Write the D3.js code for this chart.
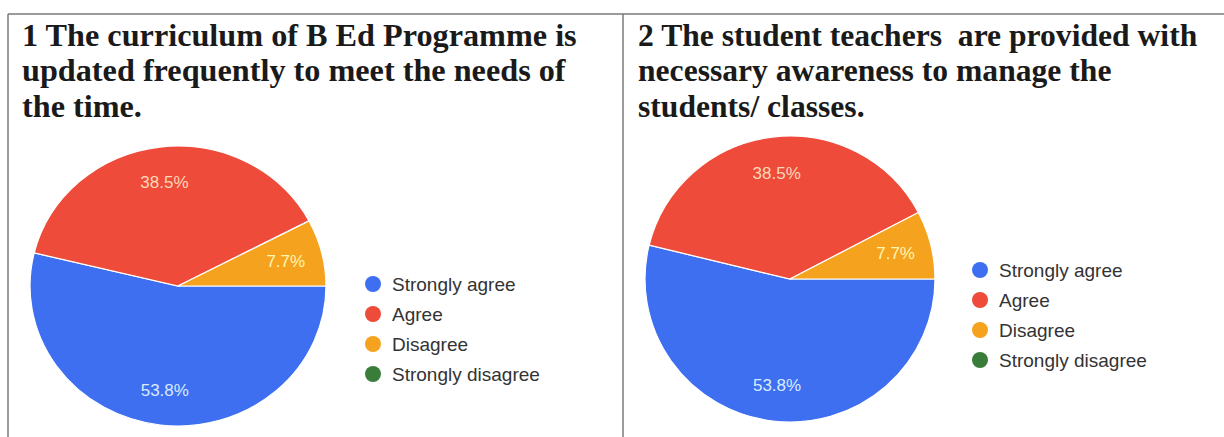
<!DOCTYPE html>
<html>
<head>
<meta charset="utf-8">
<script src="https://cdn.jsdelivr.net/npm/d3@7"></script>
<style>
  html, body { margin: 0; padding: 0; background: #fff; }
  svg { display: block; }
</style>
</head>
<body>
<svg id="chart" width="1224" height="437"></svg>
<script>
// ---- data ----
const categories = ["Strongly agree", "Agree", "Disagree", "Strongly disagree"];
const seriesQ1 = [53.8, 38.5, 7.7, 0];
const seriesQ2 = [53.8, 38.5, 7.7, 0];
const titleQ1 = ["1 The curriculum of B Ed Programme is", "updated frequently to meet the needs of", "the time."];
const titleQ2 = ["2 The student teachers  are provided with", "necessary awareness to manage the", "students/ classes."];
const colors = ["#3d6ff0", "#ee4b3a", "#f5a21f", "#3a7d3a"];
const labelColors = ["#d8ecff", "#fbd9b8", "#fff6b0", "#ffffff"];

const svg = d3.select("#chart");

// frame
const frame = svg.append("g").attr("stroke", "#7a7a7a").attr("stroke-width", 1.5).attr("fill", "none");
frame.append("line").attr("x1", 8).attr("y1", 14).attr("x2", 1224).attr("y2", 14);
frame.append("line").attr("x1", 8).attr("y1", 14).attr("x2", 8).attr("y2", 437);
frame.append("line").attr("x1", 623).attr("y1", 14).attr("x2", 623).attr("y2", 437);

const color = d3.scaleOrdinal().domain(categories).range(colors);
const labelColor = d3.scaleOrdinal().domain(categories).range(labelColors);

function panel(cfg) {
  const g = svg.append("g");
  // title
  const t = g.append("text")
    .attr("transform", `translate(${cfg.tx},0) scale(${cfg.tsx},1)`)
    .attr("font-family", "'Liberation Serif', 'Times New Roman', serif")
    .attr("font-weight", "bold")
    .attr("font-size", 31)
    .attr("fill", "#1a1a1a")
    .style("white-space", "pre");
  cfg.title.forEach((line, i) => {
    t.append("tspan").attr("x", 0).attr("y", cfg.ty + i * 35.5).text(line);
  });

  const data = categories.map((c, i) => ({ cat: c, value: cfg.values[i] }));
  const pie = d3.pie().value(d => d.value).sort(null)
    .startAngle(Math.PI / 2).endAngle(Math.PI / 2 + 2 * Math.PI);
  const arcs = pie(data);
  const r = cfg.ry;
  const sx = cfg.rx / cfg.ry;
  const arc = d3.arc().innerRadius(0).outerRadius(r);
  const labelArc = d3.arc().innerRadius(r * 0.75).outerRadius(r * 0.75);

  const pg = g.append("g").attr("transform", `translate(${cfg.cx},${cfg.cy}) scale(${sx},1)`);
  pg.selectAll("path").data(arcs.filter(d => d.value > 0)).join("path")
    .attr("d", arc)
    .attr("fill", d => color(d.data.cat))
    .attr("stroke", "#fff")
    .attr("stroke-width", 1.2);

  g.selectAll("text.lbl").data(arcs.filter(d => d.value > 0)).join("text")
    .attr("class", "lbl")
    .attr("x", d => cfg.cx + labelArc.centroid(d)[0] * sx)
    .attr("y", d => cfg.cy + labelArc.centroid(d)[1])
    .attr("dy", "0.35em")
    .attr("text-anchor", "middle")
    .attr("font-family", "'Liberation Sans', Arial, sans-serif")
    .attr("font-size", 17)
    .attr("fill", d => labelColor(d.data.cat))
    .text(d => d.value + "%");

  // legend
  const lg = g.append("g");
  const rows = lg.selectAll("g").data(categories).join("g")
    .attr("transform", (d, i) => `translate(${cfg.lx},${cfg.ly + i * 30})`);
  rows.append("circle").attr("r", 8).attr("fill", d => color(d));
  rows.append("text").attr("x", 19).attr("dy", "0.35em")
    .attr("font-family", "'Liberation Sans', Arial, sans-serif")
    .attr("font-size", 19)
    .attr("fill", "#333")
    .text(d => d);
}

panel({ title: titleQ1, values: seriesQ1, tx: 22, tsx: 1.04, ty: 46, cx: 178, cy: 286, rx: 148, ry: 140, lx: 373, ly: 284 });
panel({ title: titleQ2, values: seriesQ2, tx: 638, tsx: 1.02, ty: 46, cx: 790, cy: 279, rx: 145, ry: 143, lx: 980, ly: 270 });
</script>
</body>
</html>
